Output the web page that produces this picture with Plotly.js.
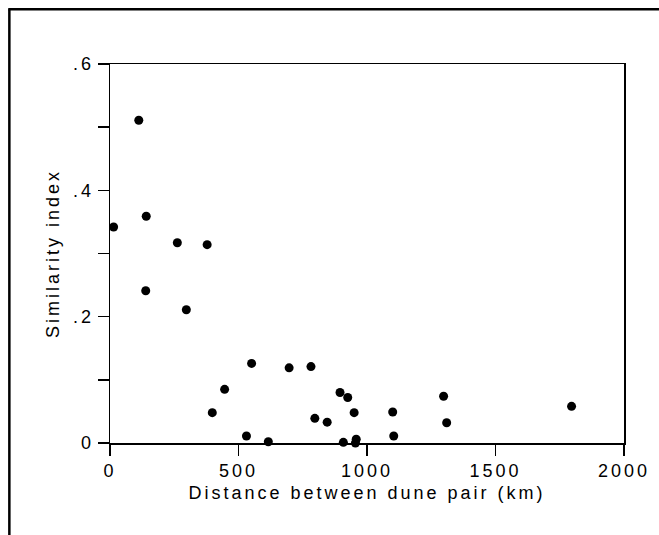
<!DOCTYPE html>
<html>
<head>
<meta charset="utf-8">
<script src="https://cdn.plot.ly/plotly-3.0.1.min.js"></script>
<style>
  html, body { margin: 0; padding: 0; background: #fff; }
  #chart { width: 659px; height: 535px; }
  .xtick text, .ytick text { letter-spacing: 3px; }
  .xtitle, .ytitle { letter-spacing: 3px; }
</style>
</head>
<body>
<div id="chart"></div>
<script>
// Distance between dune pair (km)
const distanceKm = [14, 112, 141, 139, 262, 378, 297, 398, 446, 531, 551, 616, 697, 782, 895, 925, 950, 797, 845, 908, 958, 955, 1100, 1104, 1298, 1310, 1796];
// Similarity index
const similarity = [0.342, 0.511, 0.359, 0.241, 0.317, 0.314, 0.211, 0.048, 0.085, 0.011, 0.126, 0.002, 0.119, 0.121, 0.080, 0.072, 0.048, 0.039, 0.033, 0.001, 0.006, 0.000, 0.049, 0.011, 0.074, 0.032, 0.058];

const xTickVals = [0, 500, 1000, 1500, 2000];
const xTickText = ["0", "500", "1000", "1500", "2000"];
const yTickVals = [0, 0.2, 0.4, 0.6];
const yTickText = ["0", ".2", ".4", ".6"];
const yMinorVals = [0.1, 0.3, 0.5];

const FONT = "Liberation Sans, Arial, Helvetica, sans-serif";

const trace = {
  type: "scatter",
  mode: "markers",
  x: distanceKm,
  y: similarity,
  cliponaxis: false,
  marker: { color: "#000", size: 9, line: { width: 0 } },
  hoverinfo: "x+y"
};

const layout = {
  width: 659,
  height: 535,
  margin: { l: 110, r: 35, t: 64, b: 92 },
  paper_bgcolor: "#fff",
  plot_bgcolor: "#fff",
  showlegend: false,
  font: { family: FONT, color: "#000", size: 18 },
  xaxis: {
    range: [0, 2000],
    tickvals: xTickVals,
    ticktext: xTickText,
    ticks: "outside",
    ticklen: 11,
    tickwidth: 1.5,
    tickcolor: "#000",
    showline: true,
    linecolor: "#000",
    linewidth: 1.5,
    mirror: true,
    showgrid: false,
    zeroline: false,
    tickfont: { family: FONT, size: 18, color: "#000" },
    title: { text: "Distance between dune pair (km)", font: { family: FONT, size: 18, color: "#000" }, standoff: 6 }
  },
  yaxis: {
    range: [0, 0.6],
    tickvals: yTickVals,
    ticktext: yTickText,
    ticks: "outside",
    ticklen: 11,
    tickwidth: 1.5,
    tickcolor: "#000",
    minor: { tickvals: yMinorVals, ticks: "outside", ticklen: 11, tickwidth: 1.5, tickcolor: "#000", showgrid: false },
    showline: true,
    linecolor: "#000",
    linewidth: 1.5,
    mirror: true,
    showgrid: false,
    zeroline: false,
    tickfont: { family: FONT, size: 18, color: "#000" },
    title: { text: "Similarity index", font: { family: FONT, size: 18, color: "#000" }, standoff: 8 }
  },
  shapes: [
    { type: "line", xref: "paper", yref: "paper", x0: -0.198, x1: 1.07, y0: 1.1444, y1: 1.1444, line: { color: "#000", width: 2.5 } },
    { type: "line", xref: "paper", yref: "paper", x0: -0.1958, x1: -0.1958, y0: 1.1444, y1: -0.26, line: { color: "#000", width: 2.5 } }
  ]
};

Plotly.newPlot("chart", [trace], layout, { displayModeBar: false, staticPlot: true });
</script>
</body>
</html>
